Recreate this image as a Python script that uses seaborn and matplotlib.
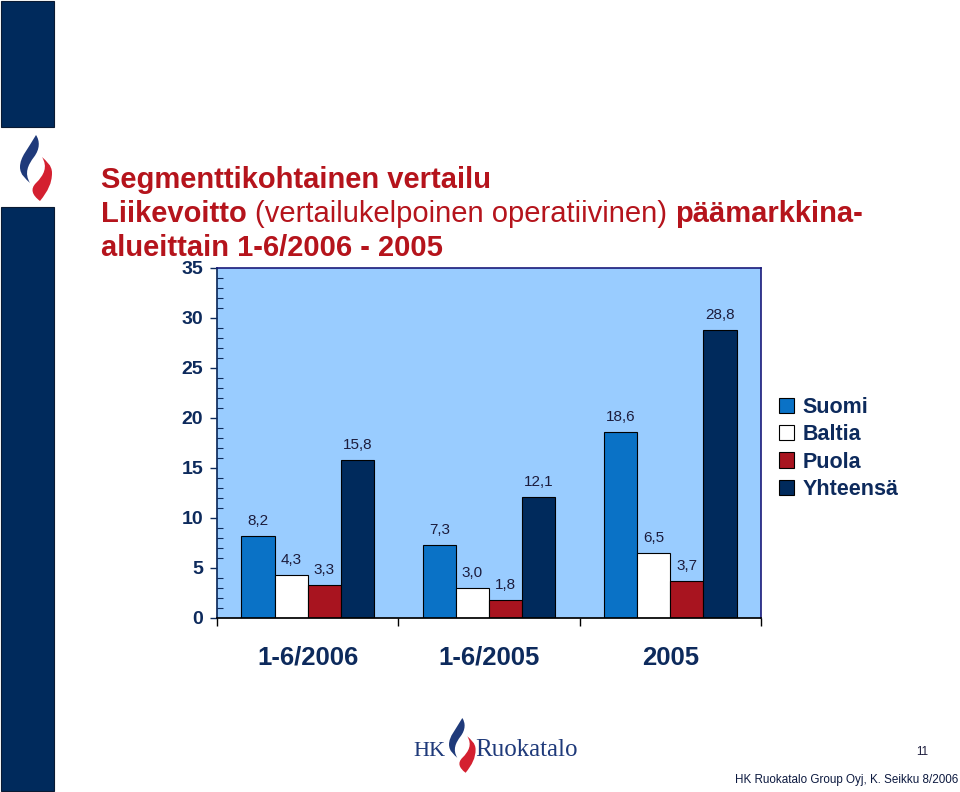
import matplotlib
matplotlib.use("Agg")
import matplotlib.pyplot as plt
from matplotlib.patches import Patch, Rectangle, PathPatch
from matplotlib.path import Path
import seaborn as sns
import pandas as pd

# ---- data ----
periods = ["1-6/2006", "1-6/2005", "2005"]
segments = ["Suomi", "Baltia", "Puola", "Yhteensä"]
suomi = [8.2, 7.3, 18.6]
baltia = [4.3, 3.0, 6.5]
puola = [3.3, 1.8, 3.7]
yhteensa = [15.8, 12.1, 28.8]
y_ticks = [0, 5, 10, 15, 20, 25, 30, 35]

colors = ["#0a72c6", "#ffffff", "#a8141f", "#002a5c"]
NAVY = "#0d2a5c"
RED = "#b5141c"

rows = []
for seg, vals in zip(segments, [suomi, baltia, puola, yhteensa]):
    for p, v in zip(periods, vals):
        rows.append({"Jakso": p, "Segmentti": seg, "Arvo": v})
df = pd.DataFrame(rows)

sns.set_theme(style="white")
plt.rcParams["font.family"] = ["Liberation Sans", "DejaVu Sans"]

fig = plt.figure(figsize=(9.6, 7.92), dpi=100)
W, H = 960, 792

def fx(x):
    return x / W

def fy(y):
    return 1 - y / H

ax = fig.add_axes([fx(217), fy(618), fx(761) - fx(217), fy(268) - fy(618)])
ax.set_facecolor("#99ccff")

sns.barplot(data=df, x="Jakso", y="Arvo", hue="Segmentti", order=periods,
            hue_order=segments, palette=colors, width=0.73, saturation=1,
            edgecolor="black", linewidth=0.8, ax=ax, legend=False)

for cont in ax.containers:
    labels = [f"{b.get_height():.1f}".replace(".", ",") for b in cont]
    ax.bar_label(cont, labels=labels, padding=6, fontsize=11, color="#1c1c3c")

ax.set_ylim(0, 35)
ax.set_xlim(-0.5, 2.5)
ax.set_yticks(y_ticks)
ax.set_yticks(range(0, 36), minor=True)
ax.set_xticks(range(len(periods)))
ax.set_xticklabels(periods)
ax.set_xticks([-0.5, 0.5, 1.5, 2.5], minor=True)
ax.tick_params(axis="y", which="major", direction="out", length=5, width=1,
               color=NAVY, labelsize=14, labelcolor=NAVY, pad=5, left=True)
ax.tick_params(axis="y", which="minor", direction="in", length=4, width=0.8,
               color=NAVY, left=True)
ax.tick_params(axis="x", which="major", length=0, labelsize=18.5,
               labelcolor=NAVY, pad=20)
ax.tick_params(axis="x", which="minor", direction="out", length=6, width=1,
               color="black", bottom=True)
for lab in ax.get_yticklabels() + ax.get_xticklabels():
    lab.set_fontweight("bold")
ax.set_xlabel("")
ax.set_ylabel("")
for side in ["top", "right"]:
    ax.spines[side].set_color("#1a1a7a")
    ax.spines[side].set_linewidth(1.2)
ax.spines["left"].set_color(NAVY)
ax.spines["bottom"].set_color("black")
for s in ax.spines.values():
    s.set_visible(True)

handles = [Patch(facecolor=c, edgecolor="black", linewidth=0.8) for c in colors]
leg = fig.legend(handles, segments, loc="upper left",
                 bbox_to_anchor=(fx(770), fy(388)), frameon=False,
                 fontsize=15.5, handlelength=0.7, handleheight=0.7,
                 handletextpad=0.4, labelspacing=0.3, borderaxespad=0)
for t in leg.get_texts():
    t.set_color(NAVY)
    t.set_fontweight("bold")

# ---- title ----
tsize = 21
t1 = fig.text(fx(101), fy(188), "Segmenttikohtainen vertailu", fontsize=tsize,
              fontweight="bold", color=RED, va="baseline")
t2a = fig.text(fx(101), fy(222), "Liikevoitto ", fontsize=tsize,
               fontweight="bold", color=RED, va="baseline")
t2b = fig.text(0, 0, "(vertailukelpoinen operatiivinen) ", fontsize=tsize,
               color=RED, va="baseline")
t2c = fig.text(0, 0, "päämarkkina-", fontsize=tsize, fontweight="bold",
               color=RED, va="baseline")
t3 = fig.text(fx(101), fy(256), "alueittain 1-6/2006 - 2005", fontsize=tsize,
              fontweight="bold", color=RED, va="baseline")

fig.canvas.draw()
r = fig.canvas.get_renderer()
bb = t2a.get_window_extent(r)
t2b.set_position((bb.x1 / fig.bbox.width, fy(222)))
bb = t2b.get_window_extent(r)
t2c.set_position((bb.x1 / fig.bbox.width, fy(222)))

# ---- slide decoration ----
fig.patches.append(Rectangle((fx(1), fy(127)), fx(54) - fx(1), fy(1) - fy(127),
                             transform=fig.transFigure, facecolor="#002a5c",
                             edgecolor="#0a1a33", linewidth=0.8))
fig.patches.append(Rectangle((fx(1), fy(791)), fx(54) - fx(1), fy(207) - fy(791),
                             transform=fig.transFigure, facecolor="#002a5c",
                             edgecolor="#0a1a33", linewidth=0.8))


def flame(x0, y0, s):
    blue = [(10, 0), (2, 14), (-6, 22), (-6, 32), (-6, 40), (0, 44), (4, 48),
            (-2, 38), (2, 30), (8, 22), (14, 14), (14, 6), (10, 0)]
    red = [(14, 66), (22, 56), (26, 48), (26, 38), (26, 30), (20, 26), (16, 22),
           (22, 32), (18, 40), (10, 48), (4, 54), (6, 60), (14, 66)]
    codes = [Path.MOVETO] + [Path.CURVE4] * 12
    for pts, col in [(blue, "#1f3a7a"), (red, "#d42030")]:
        verts = [(fx(x0 + px * s), fy(y0 + py * s)) for px, py in pts]
        fig.patches.append(PathPatch(Path(verts, codes), transform=fig.transFigure,
                                     facecolor=col, edgecolor="none"))


flame(26, 135, 1.0)
flame(454, 718, 0.83)

fig.text(fx(413), fy(756), "HK", fontsize=16, family="Liberation Serif",
         color="#1f3a7a", va="baseline")
fig.text(fx(475), fy(756), "Ruokatalo", fontsize=18, family="Liberation Serif",
         color="#1f3a7a", va="baseline")
fig.text(fx(928), fy(755), "11", fontsize=8.4, color="#1c1c3c",
         ha="right", va="baseline")
fig.text(fx(958), fy(783), "HK Ruokatalo Group Oyj, K. Seikku 8/2006",
         fontsize=8.4, color="#0d1a40", ha="right", va="baseline")

fig.savefig("out.png", dpi=100)
